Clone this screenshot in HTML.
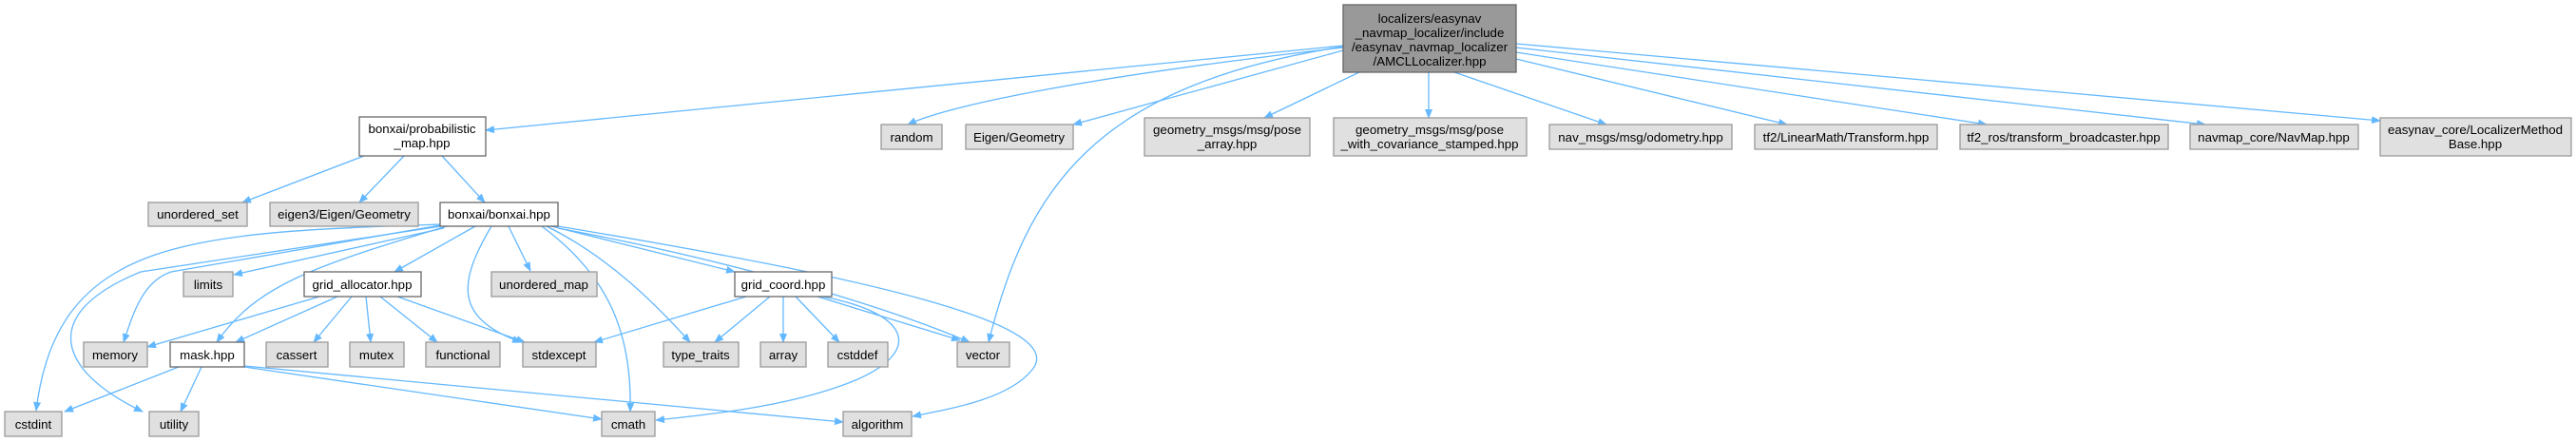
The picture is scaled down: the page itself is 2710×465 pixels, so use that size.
<!DOCTYPE html>
<html><head><meta charset="utf-8"><style>
html,body{margin:0;padding:0;background:#fff;width:2710px;height:465px;overflow:hidden}
svg text{font-family:"Liberation Sans",Helvetica,Arial,sans-serif;font-size:13.3px;fill:#000}
</style></head><body>
<svg width="2710" height="465" viewBox="0 0 2710 465" xmlns="http://www.w3.org/2000/svg">
<defs><marker id="a" markerWidth="10" markerHeight="8" refX="9" refY="4" orient="auto" markerUnits="userSpaceOnUse"><path d="M0,0 L10,4 L0,8 z" fill="#63b8ff"/></marker></defs>
<g fill="none" stroke="#63b8ff" stroke-width="1.3" marker-end="url(#a)">
<path d="M1413,48 L511,137"/>
<path d="M1413,50 C1150,80 1000,110 955,131"/>
<path d="M1413,53 L1129,131"/>
<path d="M1430,76 L1330,124"/>
<path d="M1503,76 L1503,124"/>
<path d="M1530,76 L1690,131"/>
<path d="M1595,62 L1880,131"/>
<path d="M1595,55 L2090,131"/>
<path d="M1595,50 L2320,131"/>
<path d="M1595,46 L2504,127"/>
<path d="M1413,49 C1150,90 1080,200 1040,360"/>
<path d="M383,164 L255,213"/>
<path d="M425,164 L378,213"/>
<path d="M465,164 L510,213"/>
<path d="M463,236 C200,245 60,250 38,432"/>
<path d="M463,237 L180,286 C150,296 140,330 130,360"/>
<path d="M464,238 L148,286 C40,330 60,390 150,433"/>
<path d="M467,240 L246,289"/>
<path d="M470,238 C330,280 270,300 228,360"/>
<path d="M500,238 L415,286"/>
<path d="M517,238 C480,300 480,335 548,360"/>
<path d="M535,238 L558,285"/>
<path d="M570,238 C640,290 665,350 663,433"/>
<path d="M575,238 C640,270 690,320 726,360"/>
<path d="M580,238 L773,286"/>
<path d="M587,240 C800,280 950,330 1020,360"/>
<path d="M587,238 C900,290 1130,340 1085,390 C1060,420 1000,430 960,438"/>
<path d="M336,312 L155,365"/>
<path d="M355,312 L248,360"/>
<path d="M370,312 L330,360"/>
<path d="M385,312 L390,360"/>
<path d="M400,312 L460,360"/>
<path d="M418,312 L552,360"/>
<path d="M785,312 L625,360"/>
<path d="M810,312 L752,360"/>
<path d="M824,312 L824,360"/>
<path d="M837,312 L883,360"/>
<path d="M860,312 L1010,358"/>
<path d="M865,312 C960,330 970,370 900,400 C840,425 760,435 690,442"/>
<path d="M188,386 L68,433"/>
<path d="M212,386 L190,433"/>
<path d="M257,386 L633,441"/>
<path d="M257,385 L887,444"/>
</g>
<g stroke-width="1.3">
<rect x="1413" y="5" width="182" height="71" fill="#999" stroke="#666"/>
<g stroke="#999" fill="#e0e0e0">
<rect x="927" y="131" width="64" height="26"/>
<rect x="1016" y="131" width="113" height="26"/>
<rect x="1204" y="124" width="174" height="40"/>
<rect x="1403" y="124" width="203" height="40"/>
<rect x="1630" y="131" width="192" height="26"/>
<rect x="1846" y="131" width="192" height="26"/>
<rect x="2062" y="131" width="219" height="26"/>
<rect x="2304" y="131" width="177" height="26"/>
<rect x="2504" y="124" width="201" height="40"/>
<rect x="156" y="213" width="104" height="25"/>
<rect x="284" y="213" width="156" height="25"/>
<rect x="193" y="286" width="52" height="26"/>
<rect x="517" y="286" width="111" height="26"/>
<rect x="88" y="360" width="67" height="26"/>
<rect x="280" y="360" width="65" height="26"/>
<rect x="368" y="360" width="57" height="26"/>
<rect x="448" y="360" width="78" height="26"/>
<rect x="550" y="360" width="77" height="26"/>
<rect x="698" y="360" width="79" height="26"/>
<rect x="800" y="360" width="48" height="26"/>
<rect x="871" y="360" width="63" height="26"/>
<rect x="1007" y="360" width="55" height="26"/>
<rect x="5" y="433" width="60" height="26"/>
<rect x="157" y="433" width="52" height="26"/>
<rect x="633" y="433" width="56" height="26"/>
<rect x="887" y="433" width="72" height="26"/>
</g>
<g stroke="#666" fill="#fff">
<rect x="378" y="123" width="133" height="41"/>
<rect x="463" y="213" width="124" height="25"/>
<rect x="320" y="286" width="123" height="26"/>
<rect x="773" y="286" width="102" height="26"/>
<rect x="179" y="360" width="78" height="26"/>
</g>
</g>
<g text-anchor="middle">
<text x="1504" y="24">localizers/easynav</text>
<text x="1504" y="39">_navmap_localizer/include</text>
<text x="1504" y="54">/easynav_navmap_localizer</text>
<text x="1504" y="69">/AMCLLocalizer.hpp</text>
<text x="959" y="149">random</text>
<text x="1072" y="149">Eigen/Geometry</text>
<text x="1291" y="141">geometry_msgs/msg/pose</text>
<text x="1291" y="156">_array.hpp</text>
<text x="1504" y="141">geometry_msgs/msg/pose</text>
<text x="1504" y="156">_with_covariance_stamped.hpp</text>
<text x="1726" y="149">nav_msgs/msg/odometry.hpp</text>
<text x="1942" y="149">tf2/LinearMath/Transform.hpp</text>
<text x="2171" y="149">tf2_ros/transform_broadcaster.hpp</text>
<text x="2392" y="149">navmap_core/NavMap.hpp</text>
<text x="2604" y="141">easynav_core/LocalizerMethod</text>
<text x="2604" y="156">Base.hpp</text>
<text x="444" y="140">bonxai/probabilistic</text>
<text x="444" y="155">_map.hpp</text>
<text x="208" y="230">unordered_set</text>
<text x="362" y="230">eigen3/Eigen/Geometry</text>
<text x="525" y="230">bonxai/bonxai.hpp</text>
<text x="219" y="304">limits</text>
<text x="381" y="304">grid_allocator.hpp</text>
<text x="572" y="304">unordered_map</text>
<text x="824" y="304">grid_coord.hpp</text>
<text x="121" y="378">memory</text>
<text x="218" y="378">mask.hpp</text>
<text x="312" y="378">cassert</text>
<text x="396" y="378">mutex</text>
<text x="487" y="378">functional</text>
<text x="588" y="378">stdexcept</text>
<text x="737" y="378">type_traits</text>
<text x="824" y="378">array</text>
<text x="902" y="378">cstddef</text>
<text x="1034" y="378">vector</text>
<text x="35" y="451">cstdint</text>
<text x="183" y="451">utility</text>
<text x="661" y="451">cmath</text>
<text x="923" y="451">algorithm</text>
</g>
</svg>
</body></html>
